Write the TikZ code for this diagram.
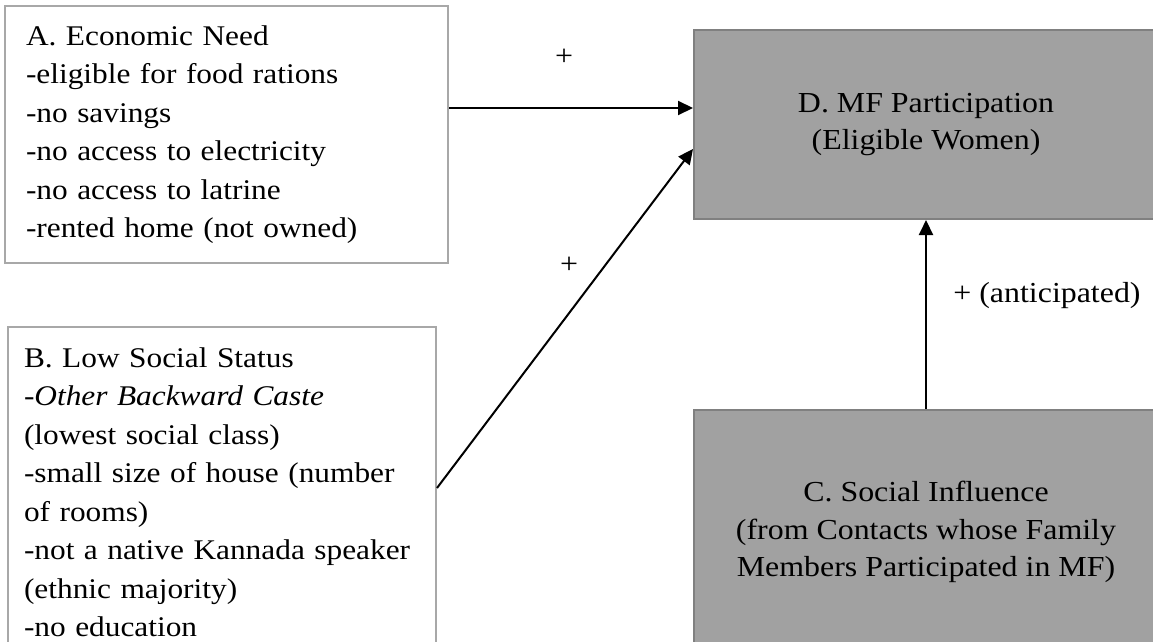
\documentclass[tikz,border=0pt]{standalone}
\usepackage{fontspec}
\setmainfont[FakeStretch=1.1]{Liberation Serif}
\usetikzlibrary{arrows.meta}
\definecolor{boxgray}{RGB}{161,161,161}
\definecolor{edgegray}{RGB}{128,128,128}
\definecolor{linegray}{RGB}{168,168,168}
\begin{document}
\begin{tikzpicture}[x=1pt, y=-1pt,
    factor/.style  = {draw=linegray, line width=2pt, fill=white, align=left, anchor=north west,
                      inner ysep=0pt, font=\fontsize{28.5}{38.5}\selectfont},
    outcome/.style = {draw=edgegray, line width=2pt, fill=boxgray, align=center, anchor=north west,
                      minimum width=464pt, font=\fontsize{29}{37.5}\selectfont},
    effect/.style  = {-{Triangle[length=15pt,width=14pt]}, line width=2pt},
    sign/.style    = {font=\fontsize{29}{30}\selectfont}]
        \useasboundingbox (0,0) rectangle (1153,642);
        \node[factor, text width=401pt, inner xsep=21pt, minimum height=257pt] (need) at (4,5)
            {A. Economic Need\\-eligible for food rations\\-no savings\\-no access to electricity\\-no access to latrine\\-rented home (not owned)};
        \node[factor, text width=396pt, inner xsep=16pt, minimum height=330pt] (status) at (7,326)
            {B. Low Social Status\\-\textit{Other Backward Caste}\\(lowest social class)\\-small size of house (number\\of rooms)\\-not a native Kannada speaker\\(ethnic majority)\\-no education};
        \node[outcome, minimum height=189pt] (part) at (693,29)
            {D. MF Participation\\(Eligible Women)};
        \node[outcome, minimum height=244pt] (infl) at (693,409)
            {C. Social Influence\\(from Contacts whose Family\\Members Participated in MF)};
        \draw[effect] ([yshift=26.5pt]need.east) -- ([yshift=26.5pt]need.east -| part.west);
        \draw[effect] ([yshift=4pt]status.east) -- ([yshift=-24.5pt]part.west);
        \draw[effect] (infl.north) -- (part.south);
        \node[sign] (plusA) at (564,57) {+};
        \node[sign] (plusB) at (569,265) {+};
        \node[sign] (plusC) at (1047,296) {+ (anticipated)};
\end{tikzpicture}
\end{document}
